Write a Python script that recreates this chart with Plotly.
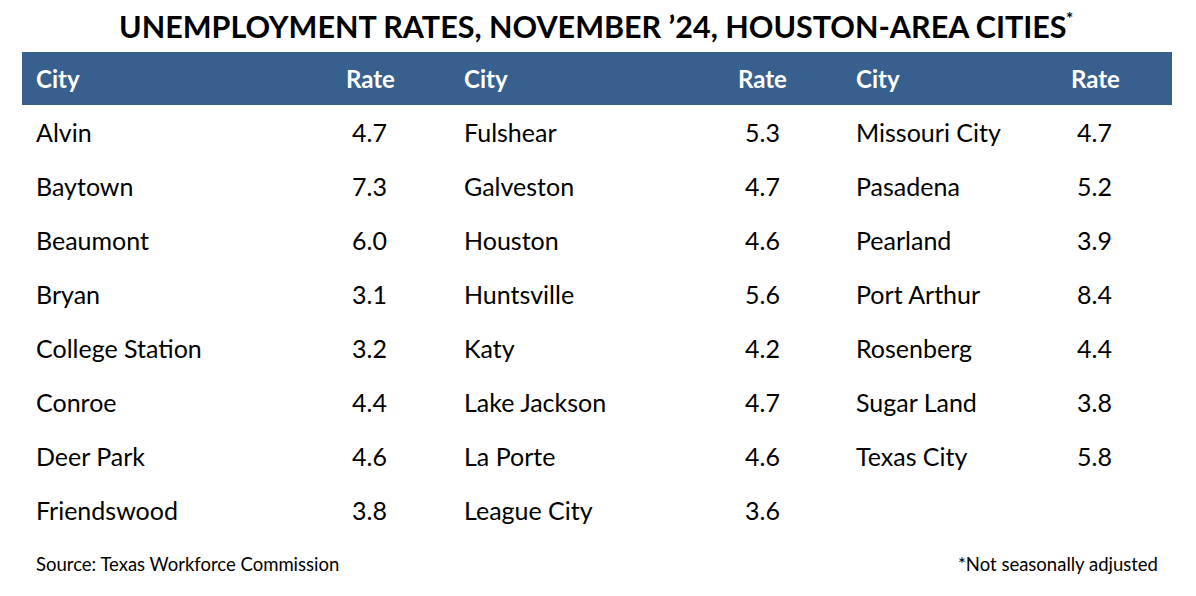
import plotly.graph_objects as go

title = "UNEMPLOYMENT RATES, NOVEMBER \u201924, HOUSTON-AREA CITIES"
title_mark = "*"
source_note = "Source: Texas Workforce Commission"
adj_note = "*Not seasonally adjusted"
header_city = "City"
header_rate = "Rate"

cities_1 = ["Alvin", "Baytown", "Beaumont", "Bryan", "College Station", "Conroe", "Deer Park", "Friendswood"]
rates_1 = [4.7, 7.3, 6.0, 3.1, 3.2, 4.4, 4.6, 3.8]
cities_2 = ["Fulshear", "Galveston", "Houston", "Huntsville", "Katy", "Lake Jackson", "La Porte", "League City"]
rates_2 = [5.3, 4.7, 4.6, 5.6, 4.2, 4.7, 4.6, 3.6]
cities_3 = ["Missouri City", "Pasadena", "Pearland", "Port Arthur", "Rosenberg", "Sugar Land", "Texas City"]
rates_3 = [4.7, 5.2, 3.9, 8.4, 4.4, 3.8, 5.8]

W, H = 1196, 596
OFF = 8  # page body margin
FONT = "Lato"
HEADER_BG = "#37608F"
BODY_SIZE = 25

groups = [
    (cities_1, rates_1, 34, 369, 344),
    (cities_2, rates_2, 462, 762, 736),
    (cities_3, rates_3, 854, 1094, 1069),
]

row_y0 = 132
row_step = 54
header_y = 78

fig = go.Figure()

fig.add_shape(type="rect", xref="x", yref="y", x0=22, x1=1172, y0=52, y1=105,
              fillcolor=HEADER_BG, line=dict(width=0), layer="below")

ann = []
ann.append(dict(x=1069, y=26, text="<b>" + title + "</b>", showarrow=False,
                xanchor="right", yanchor="middle", font=dict(family=FONT, size=30.5, color="black")))
ann.append(dict(x=1064, y=18, text="<b>" + title_mark + "</b>", showarrow=False,
                xanchor="left", yanchor="middle", font=dict(family=FONT, size=17, color="black")))
for cities, rates, xc, xr, xh in groups:
    ann.append(dict(x=xc, y=header_y, text="<b>" + header_city + "</b>", showarrow=False, xanchor="left", yanchor="middle",
                    font=dict(family=FONT, size=24, color="white")))
    ann.append(dict(x=xh, y=header_y, text="<b>" + header_rate + "</b>", showarrow=False, xanchor="left", yanchor="middle",
                    font=dict(family=FONT, size=24, color="white")))
    for i, (c, r) in enumerate(zip(cities, rates)):
        y = row_y0 + i * row_step
        ann.append(dict(x=xc, y=y, text=c, showarrow=False, xanchor="left", yanchor="middle",
                        font=dict(family=FONT, size=BODY_SIZE, color="black")))
        ann.append(dict(x=xr, y=y, text=f"{r:.1f}", showarrow=False, xanchor="center", yanchor="middle",
                        font=dict(family=FONT, size=BODY_SIZE, color="black")))

ann.append(dict(x=34, y=564, text=source_note, showarrow=False, xanchor="left", yanchor="middle",
                font=dict(family=FONT, size=18.5, color="black")))
ann.append(dict(x=1160, y=564, text=adj_note, showarrow=False, xanchor="right", yanchor="middle",
                font=dict(family=FONT, size=18.5, color="black")))

fig.update_layout(
    width=W, height=H, margin=dict(l=0, r=0, t=0, b=0),
    paper_bgcolor="white", plot_bgcolor="white",
    xaxis=dict(range=[OFF, W + OFF], visible=False, fixedrange=True),
    yaxis=dict(range=[H + OFF, OFF], visible=False, fixedrange=True),
    annotations=ann, showlegend=False,
)

fig.write_html("out.html")
